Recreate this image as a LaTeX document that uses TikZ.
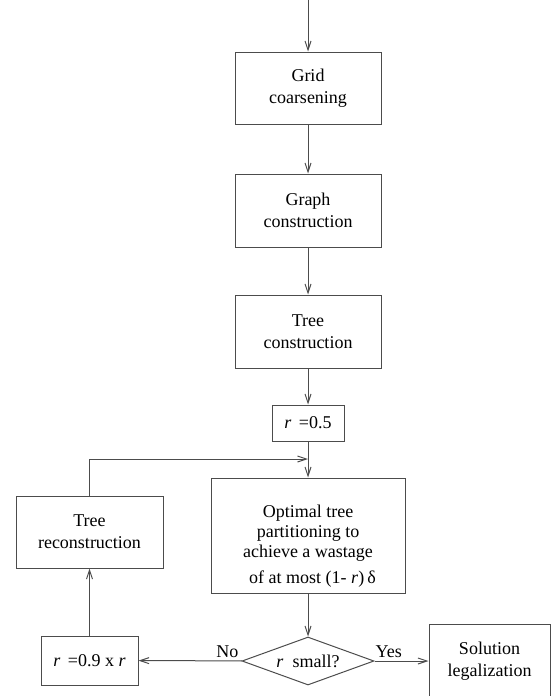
\documentclass[tikz,border=0pt]{standalone}
\usepackage{fontspec}
\setmainfont{Liberation Serif}
\usetikzlibrary{arrows.meta,positioning,shapes.geometric}

\begin{document}
\begin{tikzpicture}[x=1pt,y=-1pt,
    box/.style={draw=black!70,line width=1pt,align=center,inner sep=0pt,
      font=\fontsize{18}{22}\selectfont},
    decision/.style={diamond,draw=black!70,line width=1pt,inner sep=0pt,aspect=2.75,
      minimum width=132pt,minimum height=48pt,font=\fontsize{18}{22}\selectfont},
    flow/.style={draw=black!70,line width=1pt,-{Straight Barb[length=9pt,width=6pt]}},
    tag/.style={inner sep=3pt,font=\fontsize{18}{22}\selectfont}]
    \useasboundingbox (0,0) rectangle (553,696);

    % Main column
    \coordinate (start) at (308,0);
    \node[box,minimum width=146pt,minimum height=72pt] (grid) at (308,88) {Grid\\coarsening};
    \node[box,minimum width=146pt,minimum height=73pt] (graph) at (308,210.5) {Graph\\construction};
    \node[box,minimum width=146pt,minimum height=73pt] (treec) at (308,331.5) {Tree\\construction};
    \node[box,minimum width=72pt,minimum height=36pt] (rhalf) at (308,423) {\textit{r}\,\ =0.5};
    \node[box,minimum width=194pt,minimum height=115pt,font=\fontsize{18}{20}\selectfont] (optimal) at (308,535.5)
      {\mbox{}\\[13pt]Optimal tree\hspace*{10pt}\\partitioning to\hspace*{14pt}\\achieve a wastage\hspace*{28pt}\\[6pt]\hspace*{9pt}of at most (1- \textit{r})\,δ};
    \node[decision] (small) at (308,661) {\textit{r}\enspace small?};

    % Exit on the right
    \node[box,minimum width=121pt,minimum height=74pt] (legal) at (489.5,661) {Solution\\legalization};

    % Loop on the left
    \node[box,minimum width=97pt,minimum height=49pt] (rnew) at (89.5,660.5) {\textit{r}\,\ =0.9 x \textit{r}};
    \node[box,minimum width=147pt,minimum height=72pt] (recon) at (89.5,532) {Tree\\reconstruction};
    \coordinate (merge) at (308,459);

    % Connectors
    \draw[flow] (start) -- (grid);
    \draw[flow] (grid) -- (graph);
    \draw[flow] (graph) -- (treec);
    \draw[flow] (treec) -- (rhalf);
    \draw[flow] (rhalf) -- (optimal);
    \draw[flow] (optimal) -- (small);
    \draw[flow] (small) -- (legal);
    \draw[flow] (small) -- (rnew);
    \draw[flow] (rnew) -- (recon);
    \draw[flow] (recon.north) |- (merge);

    % Branch labels
    \node[tag,anchor=south east] (no) at (small.west) {No};
    \node[tag,anchor=south west,inner xsep=1pt] (yes) at (small.east) {Yes};
  \end{tikzpicture}
\end{document}
